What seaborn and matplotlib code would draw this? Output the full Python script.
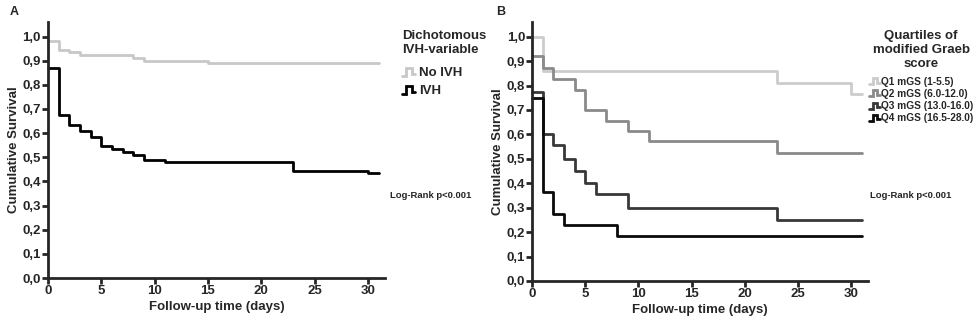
import numpy as np
import pandas as pd
import matplotlib
matplotlib.use("Agg")
import matplotlib.pyplot as plt
from matplotlib.lines import Line2D
from matplotlib.legend_handler import HandlerBase
import seaborn as sns

# panel A: dichotomous IVH variable (Kaplan-Meier steps)
a_time_noivh = [0, 1, 2, 3, 8, 9, 15, 31]
a_surv_noivh = [0.98, 0.945, 0.935, 0.922, 0.912, 0.90, 0.89, 0.89]
a_time_ivh = [0, 1, 2, 3, 4, 5, 6, 7, 8, 9, 11, 23, 30, 31]
a_surv_ivh = [0.87, 0.676, 0.635, 0.61, 0.585, 0.548, 0.535, 0.523, 0.51, 0.49, 0.48, 0.445, 0.435, 0.435]
a_labels = ["No IVH", "IVH"]
a_colors = ["#c8c8c8", "#000000"]

# panel B: quartiles of modified Graeb score
b_time_q1 = [0, 1, 23, 30, 31]
b_surv_q1 = [1.0, 0.86, 0.81, 0.765, 0.765]
b_time_q2 = [0, 1, 2, 4, 5, 7, 9, 11, 23, 31]
b_surv_q2 = [0.92, 0.87, 0.826, 0.783, 0.70, 0.656, 0.615, 0.571, 0.522, 0.522]
b_time_q3 = [0, 1, 2, 3, 4, 5, 6, 9, 23, 31]
b_surv_q3 = [0.775, 0.60, 0.555, 0.50, 0.45, 0.40, 0.355, 0.30, 0.25, 0.25]
b_time_q4 = [0, 1, 2, 3, 8, 31]
b_surv_q4 = [0.75, 0.365, 0.275, 0.23, 0.185, 0.185]
b_labels = ["Q1 mGS (1-5.5)", "Q2 mGS (6.0-12.0)", "Q3 mGS (13.0-16.0)", "Q4 mGS (16.5-28.0)"]
b_colors = ["#cccccc", "#8a8a8a", "#383838", "#0a0a0a"]

y_ticks = np.arange(0, 1.01, 0.1)
y_ticklabels = [f"{v:.1f}".replace(".", ",") for v in y_ticks]
x_ticks = [0, 5, 10, 15, 20, 25, 30]

sns.set_style("ticks")
plt.rcParams["font.family"] = ["Liberation Sans", "DejaVu Sans"]
plt.rcParams["font.weight"] = "bold"


class StepHandler(HandlerBase):
    def create_artists(self, legend, orig_handle, xdescent, ydescent,
                       width, height, fontsize, trans):
        x0, y0 = -xdescent, -ydescent
        xs = [x0, x0 + 0.35 * width, x0 + 0.35 * width, x0 + 0.75 * width, x0 + 0.75 * width, x0 + width]
        ys = [y0 + 0.1 * height, y0 + 0.1 * height, y0 + 0.9 * height, y0 + 0.9 * height,
              y0 + 0.3 * height, y0 + 0.3 * height]
        ln = Line2D(xs, ys, color=orig_handle.get_color(), lw=orig_handle.get_linewidth(),
                    solid_joinstyle="miter", transform=trans)
        return [ln]


def make_df(times, survs, labels):
    frames = []
    for t, s, lab in zip(times, survs, labels):
        frames.append(pd.DataFrame({"time": t, "surv": s, "group": lab}))
    return pd.concat(frames, ignore_index=True)


def style_axis(ax):
    ax.set_xlim(0, 31.6)
    ax.set_ylim(0, 1.06)
    ax.set_xticks(x_ticks)
    ax.set_xticklabels([str(v) for v in x_ticks], fontsize=9.5, fontweight="bold")
    ax.set_yticks(y_ticks)
    ax.set_yticklabels(y_ticklabels, fontsize=9.5, fontweight="bold")
    ax.set_xlabel("Follow-up time (days)", fontsize=9.5, fontweight="bold", labelpad=3)
    ax.set_ylabel("Cumulative Survival", fontsize=9.5, fontweight="bold", labelpad=2)
    for sp in ["left", "bottom"]:
        ax.spines[sp].set_linewidth(2.0)
    sns.despine(ax=ax)
    ax.tick_params(width=2.0, length=4, pad=1)


fig = plt.figure(figsize=(9.77, 3.29), dpi=100)
ax_a = fig.add_axes([0.049, 0.155, 0.345, 0.778])
ax_b = fig.add_axes([0.5445, 0.146, 0.344, 0.787])

df_a = make_df([a_time_noivh, a_time_ivh], [a_surv_noivh, a_surv_ivh], a_labels)
sns.lineplot(data=df_a, x="time", y="surv", hue="group", hue_order=a_labels,
             palette=a_colors, drawstyle="steps-post", lw=2.0, estimator=None,
             legend=False, ax=ax_a, clip_on=False)
style_axis(ax_a)

df_b = make_df([b_time_q1, b_time_q2, b_time_q3, b_time_q4],
               [b_surv_q1, b_surv_q2, b_surv_q3, b_surv_q4], b_labels)
sns.lineplot(data=df_b, x="time", y="surv", hue="group", hue_order=b_labels,
             palette=b_colors, drawstyle="steps-post", lw=2.0, estimator=None,
             legend=False, ax=ax_b, clip_on=False)
style_axis(ax_b)

# legends
h_a = [Line2D([], [], color=c, lw=2.0) for c in a_colors]
leg_a = ax_a.legend(h_a, a_labels, title="Dichotomous\nIVH-variable", alignment="left",
                    loc="upper left", bbox_to_anchor=(390 / 977, 1 - 18 / 329),
                    bbox_transform=fig.transFigure, frameon=False,
                    handler_map={Line2D: StepHandler()}, handlelength=1.0, handleheight=0.8,
                    handletextpad=0.3, labelspacing=0.4,
                    prop={"weight": "bold", "size": 9.5},
                    title_fontproperties={"weight": "bold", "size": 9.5})
leg_a._legend_box.sep = 8

h_b = [Line2D([], [], color=c, lw=2.0) for c in b_colors]
leg_b = ax_b.legend(h_b, b_labels, title="Quartiles of\nmodified Graeb\nscore", alignment="center",
                    loc="upper right", bbox_to_anchor=(982 / 977, 1 - 21 / 329),
                    bbox_transform=fig.transFigure, frameon=False,
                    handler_map={Line2D: StepHandler()}, handlelength=1.0, handleheight=0.8,
                    handletextpad=0.1, labelspacing=0.22,
                    prop={"weight": "bold", "size": 7.3},
                    title_fontproperties={"weight": "bold", "size": 9.5})
leg_b.get_title().set_multialignment("center")
leg_b._legend_box.sep = 5

fig.text(390 / 977, 1 - 195 / 329, "Log-Rank p<0.001", fontsize=6.8, fontweight="bold", va="center")
fig.text(870 / 977, 1 - 195 / 329, "Log-Rank p<0.001", fontsize=6.8, fontweight="bold", va="center")
fig.text(10 / 977, 1 - 12 / 329, "A", fontsize=9, fontweight="bold", va="center")
fig.text(496 / 977, 1 - 12 / 329, "B", fontsize=9, fontweight="bold", va="center")

fig.savefig("out.png", dpi=100)
